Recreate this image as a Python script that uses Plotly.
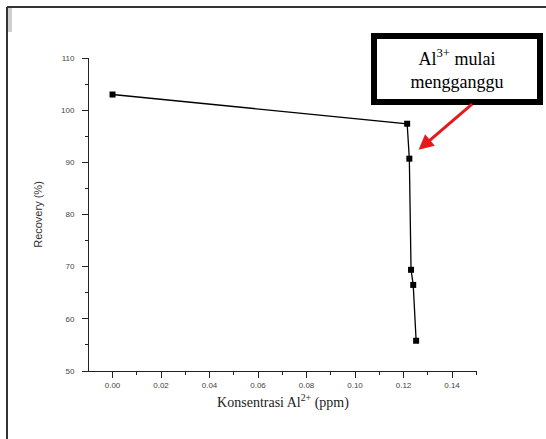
import plotly.graph_objects as go

# Data
konsentrasi = [0.0, 0.1215, 0.1224, 0.1231, 0.1240, 0.1252]
recovery = [103.0, 97.4, 90.7, 69.4, 66.5, 55.8]
x_ticks = [0.00, 0.02, 0.04, 0.06, 0.08, 0.10, 0.12, 0.14]
y_ticks = [50, 60, 70, 80, 90, 100, 110]

W, H = 546, 439
L, R, T, B = 89, 69, 58, 68
pw, ph = W - L - R, H - T - B

def px_x(p):
    return (p - L) / pw

def px_y(p):
    return (H - B - p) / ph

fig = go.Figure()
fig.add_trace(go.Scatter(
    x=konsentrasi, y=recovery, mode="lines+markers",
    line=dict(color="black", width=1.3),
    marker=dict(symbol="square", size=6, color="black"),
    showlegend=False,
))

axis_font = dict(family="Liberation Sans", size=8, color="#444")
fig.update_xaxes(
    range=[-0.0097, 0.1503], tickvals=x_ticks,
    ticktext=[f"{v:.2f}" for v in x_ticks],
    showgrid=False, zeroline=False, showline=True, linecolor="#222", linewidth=1,
    ticks="outside", ticklen=6, tickwidth=1, tickcolor="#222",
    minor=dict(dtick=0.01, tick0=0, ticks="outside", ticklen=3, tickcolor="#222", showgrid=False),
    tickfont=axis_font,
    title=dict(text="Konsentrasi Al<sup>2+</sup> (ppm)",
               font=dict(family="Liberation Serif", size=14, color="#222"), standoff=8),
)
fig.update_yaxes(
    range=[50, 110], tickvals=y_ticks,
    showgrid=False, zeroline=False, showline=True, linecolor="#222", linewidth=1,
    ticks="outside", ticklen=6, tickwidth=1, tickcolor="#222",
    minor=dict(dtick=5, tick0=0, ticks="outside", ticklen=3, tickcolor="#222", showgrid=False),
    tickfont=axis_font, ticklabelstandoff=6,
    title=dict(text="Recovery (%)",
               font=dict(family="Liberation Sans", size=11, color="#333"), standoff=16),
)

# Callout box
fig.add_annotation(
    xref="paper", yref="paper", x=px_x(457), y=px_y(69),
    text="Al<sup>3+</sup> mulai<br>mengganggu", showarrow=False,
    font=dict(family="Liberation Serif", size=18, color="black"),
    bgcolor="white", bordercolor="black", borderwidth=6,
    width=154, height=54, borderpad=3, align="center",
    xanchor="center", yanchor="middle",
)
# Red arrow
fig.add_annotation(
    x=0.1262, y=92.4, xref="x", yref="y", text="", showarrow=True,
    ax=55, ay=-47, arrowcolor="#e8191b", arrowwidth=3, arrowhead=2,
    arrowsize=1, standoff=0,
)

# Outer frame lines (image border)
fig.add_shape(type="line", xref="paper", yref="paper",
              x0=px_x(7), x1=px_x(560), y0=px_y(7), y1=px_y(7),
              line=dict(color="#333", width=2))
fig.add_shape(type="line", xref="paper", yref="paper",
              x0=px_x(7), x1=px_x(7), y0=px_y(7), y1=px_y(450),
              line=dict(color="#333", width=2))
fig.add_shape(type="rect", xref="paper", yref="paper",
              x0=px_x(8), x1=px_x(12), y0=px_y(8), y1=px_y(32),
              line=dict(width=0), fillcolor="#cfcfcf")

fig.update_layout(
    width=W, height=H, margin=dict(l=L, r=R, t=T, b=B),
    plot_bgcolor="white", paper_bgcolor="white",
)
fig.write_html("out.html", config={"displayModeBar": False},
               post_script="document.body.style.margin='0';document.body.style.overflow='hidden';")
